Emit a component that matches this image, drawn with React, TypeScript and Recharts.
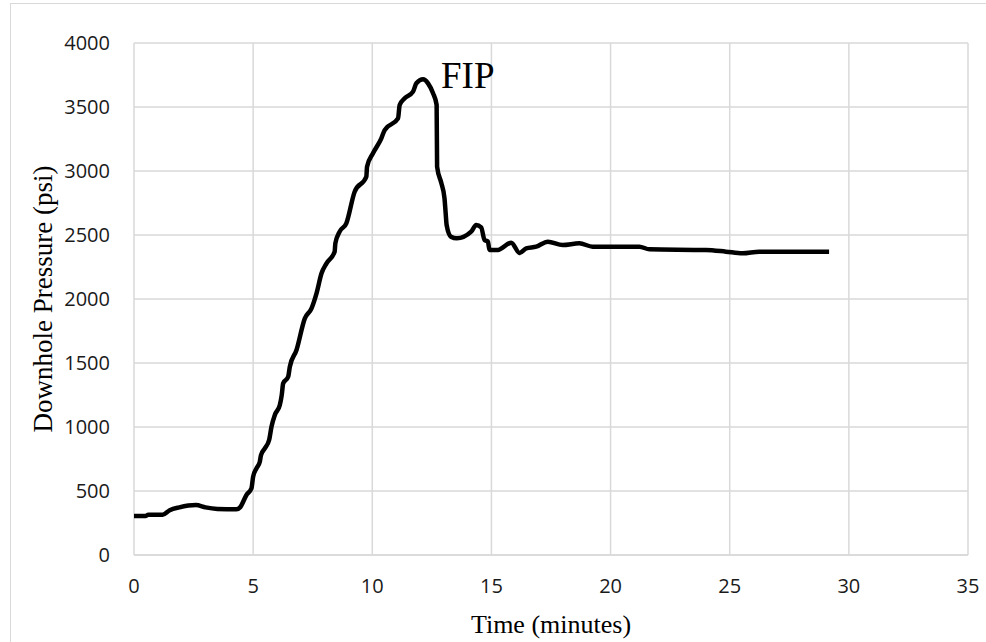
import React from "react";
import {
  LineChart,
  Line,
  XAxis,
  YAxis,
  CartesianGrid,
  Label,
  ReferenceDot,
} from "recharts";

// Downhole pressure trace
const timeMin = [
  0.0, 0.5, 0.6, 1.2, 1.5, 1.9, 2.6, 3.0, 3.5, 4.3, 4.45, 4.72, 4.93, 5.0, 5.14,
  5.28, 5.33, 5.49, 5.67, 5.77, 5.91, 6.12, 6.2, 6.26, 6.47, 6.54, 6.82, 7.17,
  7.45, 7.66, 7.87, 8.08, 8.42, 8.45, 8.63, 8.91, 9.26, 9.75, 9.78, 10.03, 10.38,
  10.52, 11.08, 11.15, 11.36, 11.71, 11.85, 12.13, 12.34, 12.55, 12.7, 12.72,
  12.9, 13.03, 13.08, 13.12, 13.3, 13.55, 14.15, 14.36, 14.57, 14.71, 14.85,
  14.92, 15.27, 15.83, 16.18, 16.46, 16.88, 17.37, 17.99, 18.69, 19.25, 21.21,
  21.63, 24.0, 24.84, 25.54, 26.24, 29.17,
];

const pressurePsi = [
  305, 305, 315, 315, 350, 372, 390, 372, 360, 357, 372, 469, 521, 612, 677,
  729, 781, 833, 898, 1002, 1094, 1172, 1250, 1341, 1393, 1471, 1602, 1849,
  1927, 2044, 2201, 2279, 2370, 2435, 2526, 2591, 2838, 2955, 3033, 3138, 3255,
  3320, 3411, 3516, 3568, 3620, 3685, 3716, 3685, 3607, 3516, 3033,
  2904, 2787, 2669, 2578, 2487, 2474, 2526, 2578, 2560, 2461, 2450,
  2383, 2383, 2440, 2360, 2396, 2409, 2448, 2422, 2435, 2409, 2409,
  2388, 2383, 2370, 2357, 2370, 2370,
];

const xTicks = [0, 5, 10, 15, 20, 25, 30, 35];
const yTicks = [0, 500, 1000, 1500, 2000, 2500, 3000, 3500, 4000];

const data = timeMin.map((t, i) => ({ t, p: pressurePsi[i] }));

const serif = "'Liberation Serif', 'Times New Roman', serif";

const tickFont = {
  fontFamily: "'Open Sans', 'Noto Sans', sans-serif",
  fontSize: 20,
  fill: "#1a1a1a",
};

export default function App() {
  return (
    <div style={{ position: "absolute", left: 0, top: 0, width: 986, height: 642, overflow: "hidden", background: "#fff" }}>
      <div
        style={{
          position: "absolute",
          left: 10,
          top: 3,
          width: 1000,
          height: 700,
          border: "1px solid #d9d9d9",
          boxSizing: "border-box",
        }}
      />
      <div style={{ position: "absolute", left: 0, top: 0 }}>
        <LineChart
          width={986}
          height={642}
          data={data}
          margin={{ top: 43, right: 18, bottom: 0, left: 10 }}
        >
          <CartesianGrid stroke="#d9d9d9" strokeWidth={1.5} />
          <XAxis
            dataKey="t"
            type="number"
            domain={[0, 35]}
            ticks={xTicks}
            height={87}
            tickLine={false}
            axisLine={{ stroke: "#d9d9d9", strokeWidth: 1.5 }}
            tickMargin={18}
            tick={tickFont}
          >
            <Label
              value="Time (minutes)"
              position="insideBottom"
              offset={9}
              style={{ fontFamily: serif, fontSize: 26, fill: "#000" }}
            />
          </XAxis>
          <YAxis
            type="number"
            domain={[0, 4000]}
            ticks={yTicks}
            width={124}
            tickLine={false}
            axisLine={false}
            tickMargin={18}
            tick={tickFont}
          >
            <Label
              value="Downhole Pressure (psi)"
              angle={-90}
              position="insideLeft"
              offset={32}
              style={{ textAnchor: "middle", fontFamily: serif, fontSize: 27, fill: "#000" }}
            />
          </YAxis>
          <Line
            type="monotone"
            dataKey="p"
            stroke="#000"
            strokeWidth={4.5}
            dot={false}
            isAnimationActive={false}
          />
          <ReferenceDot
            x={12.13}
            y={3716}
            r={0}
            stroke="none"
            fill="none"
            label={{
              value: "FIP",
              position: "right",
              offset: 18,
              dy: -4,
              style: { fontFamily: serif, fontSize: 37, fill: "#000" },
            }}
          />
        </LineChart>
      </div>
    </div>
  );
}
